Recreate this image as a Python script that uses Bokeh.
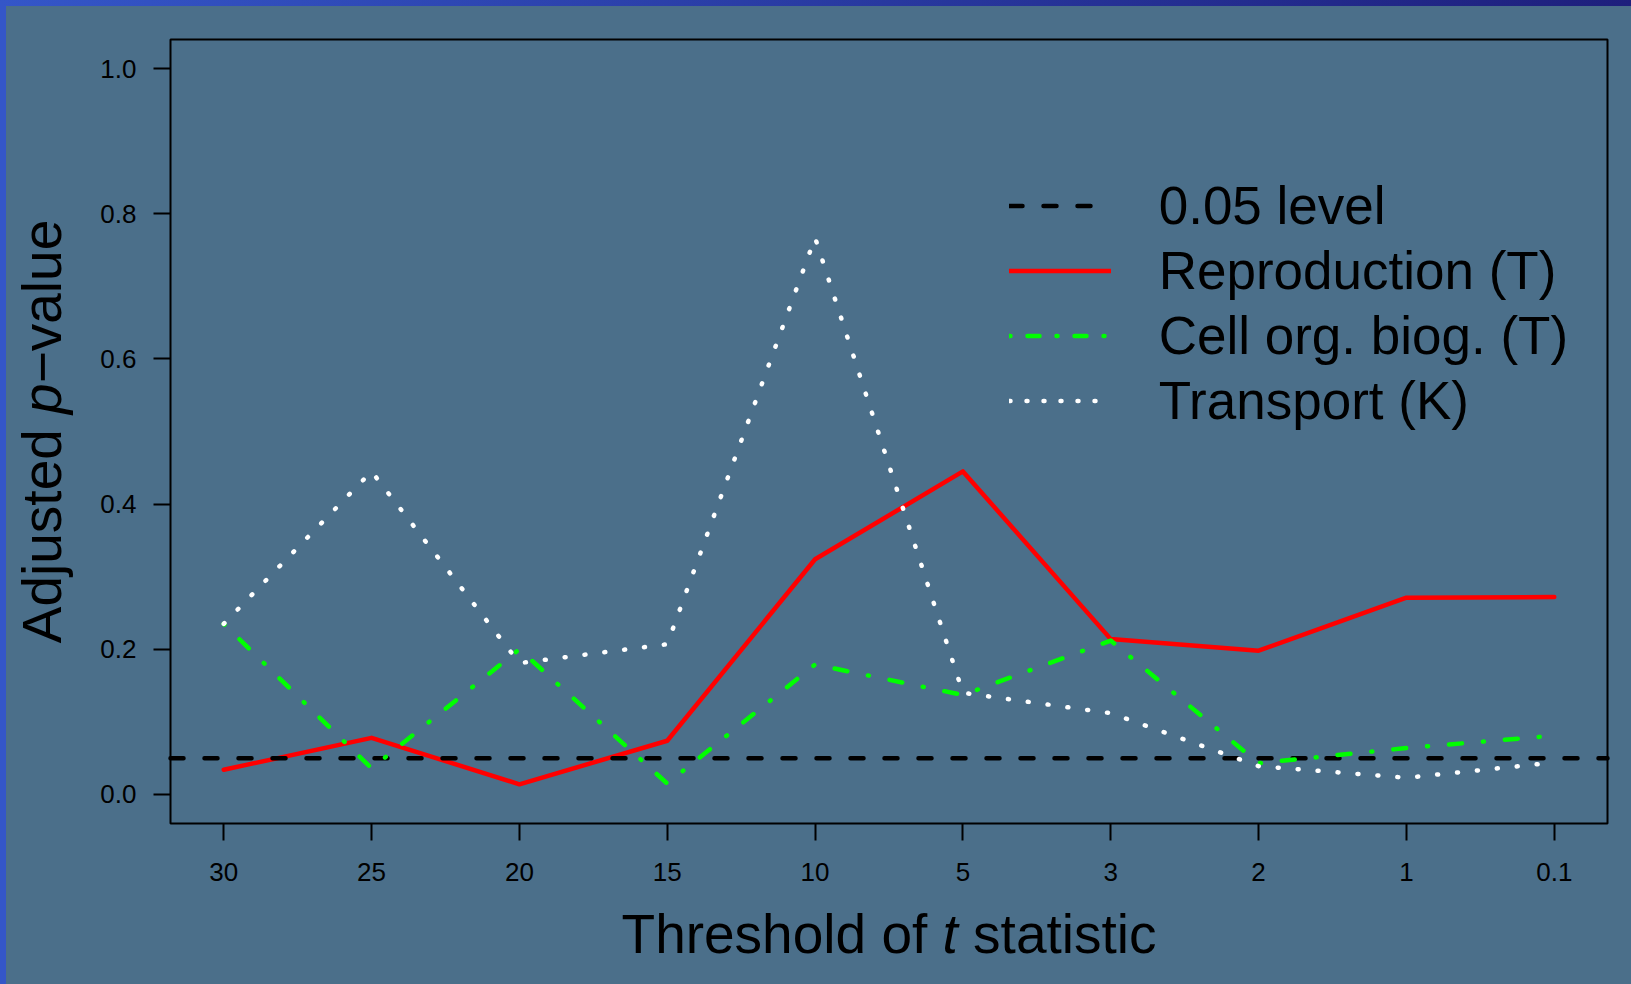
import math
from bokeh.plotting import figure
from bokeh.models import (Range1d, FixedTicker, PrintfTickFormatter, Legend, LegendItem,
                          Label, BoxAnnotation, GlobalInlineStyleSheet)
from bokeh.embed import file_html
from bokeh.resources import INLINE

# ---------------- data ----------------
thresholds = ["30", "25", "20", "15", "10", "5", "3", "2", "1", "0.1"]
positions = [1, 2, 3, 4, 5, 6, 7, 8, 9, 10]
reproduction = [0.034, 0.078, 0.014, 0.074, 0.324, 0.445, 0.214, 0.198, 0.271, 0.272]
cell_org = [0.235, 0.036, 0.200, 0.015, 0.179, 0.137, 0.212, 0.043, 0.064, 0.081]
transport = [0.235, 0.445, 0.181, 0.207, 0.767, 0.140, 0.112, 0.039, 0.023, 0.044]
level = [0.05]
y_ticks = [0.0, 0.2, 0.4, 0.6, 0.8, 1.0]
legend_labels = ["0.05 level", "Reproduction (T)", "Cell org. biog. (T)", "Transport (K)"]

# ---------------- geometry ----------------
BG = "#4b6f8a"
FONT = "Liberation Sans"
W, H = 1624, 977            # figure size (placed 6px from the page's top-left)
BL, BT, BW, BH = 164, 33, 1437, 784   # plot box inside the figure (pixels)
XLO, XHI = 0.64, 10.36      # plot box extent in data units (x)
YLO, YHI = -0.04, 1.04      # plot box extent in data units (y)
sx = BW / (XHI - XLO)
sy = BH / (YHI - YLO)
LW = 4.5

p = figure(width=W, height=H, output_backend="svg", toolbar_location=None,
           x_range=Range1d(XLO - BL / sx, XHI + (W - BL - BW) / sx),
           y_range=Range1d(YLO - (H - BT - BH) / sy, YHI + BT / sy),
           min_border=0)
p.title.visible = False
p.background_fill_color = BG
p.border_fill_color = BG
p.outline_line_color = None
p.grid.visible = False

for ax in (p.xaxis[0], p.yaxis[0]):
    ax.axis_line_color = None
    ax.major_tick_line_color = "black"
    ax.major_tick_line_width = 2
    ax.major_tick_out = 17
    ax.major_tick_in = 0
    ax.minor_tick_line_color = None
    ax.major_label_text_font = FONT
    ax.major_label_text_font_size = "26px"
    ax.major_label_text_color = "black"

p.xaxis.fixed_location = YLO
p.yaxis.fixed_location = XLO
p.xaxis.ticker = FixedTicker(ticks=positions)
p.xaxis.major_label_overrides = {pos: lab for pos, lab in zip(positions, thresholds)}
p.xaxis.major_label_standoff = 22
p.yaxis.ticker = FixedTicker(ticks=y_ticks)
p.yaxis.formatter = PrintfTickFormatter(format="%.1f")
p.yaxis.major_label_standoff = 17

# plot box
p.add_layout(BoxAnnotation(left=XLO, right=XHI, bottom=YLO, top=YHI,
                           fill_alpha=0, line_color="black", line_alpha=1, line_width=2))

# ---------------- series ----------------
p.line(positions, reproduction, line_color="#ff0000", line_width=LW,
       line_join="round", line_cap="round")
p.segment(x0=[XLO], x1=[XHI], y0=level, y1=level, line_color="black", line_width=LW,
          line_dash="13 21", line_cap="round")
p.line(positions, cell_org, line_color="#00ff00", line_width=LW,
       line_dash="1 21 13 21", line_join="round", line_cap="round")
p.line(positions, transport, line_color="#ffffff", line_width=LW,
       line_dash="1 19", line_join="round", line_cap="round")

# legend-only sample renderers (NaN data: nothing is drawn in the plot)
nan2 = [float("nan"), float("nan")]
lg = [
    p.line(positions[:2], nan2, line_color="black", line_width=LW, line_dash="13 21", line_cap="round"),
    p.line(positions[:2], nan2, line_color="#ff0000", line_width=LW, line_cap="round"),
    p.line(positions[:2], nan2, line_color="#00ff00", line_width=LW, line_dash="1 17 12 17", line_cap="round"),
    p.line(positions[:2], nan2, line_color="#ffffff", line_width=LW, line_dash="1 16", line_cap="round"),
]
legend = Legend(items=[LegendItem(label=t, renderers=[r]) for t, r in zip(legend_labels, lg)],
                location=(1002.7, 550), orientation="vertical",
                glyph_width=102, glyph_height=65, label_height=65, label_standoff=48,
                spacing=0, padding=0, margin=0,
                border_line_color=None, background_fill_alpha=0,
                label_text_font=FONT, label_text_font_size="53px", label_text_color="black")
p.add_layout(legend)

# ---------------- axis titles (mixed upright / italic) ----------------
ADV = {'T': 611, 'h': 556, 'r': 333, 'e': 556, 's': 500, 'o': 556, 'l': 222, 'd': 556,
       ' ': 278, 'f': 278, 't': 278, 'a': 556, 'i': 222, 'c': 500, 'A': 667, 'j': 222,
       'u': 556, 'p': 556, 'v': 500, '\u2212': 584}
TS = 55


def tw(s):
    return sum(ADV.get(c, 556) for c in s) * TS / 1000.0


# x title (screen units from the figure's bottom-left)
x0 = BL + BW / 2 - tw("Threshold of t statistic") / 2
xbase = 49.8
for txt, off, style in [("Threshold of", 0, "normal"),
                        ("t", tw("Threshold of "), "italic"),
                        ("statistic", tw("Threshold of t "), "normal")]:
    p.add_layout(Label(x=x0 + off, y=xbase, x_units="screen", y_units="screen", text=txt,
                       text_font=FONT, text_font_size=f"{TS}px", text_font_style=style,
                       text_color="black", text_align="left", text_baseline="alphabetic"))

# y title, rotated, reading upwards
ycenter = H - (BT + BH / 2)
y0 = ycenter - tw("Adjusted p\u2212value") / 2
ybase = 35.5
for txt, off, style in [("Adjusted", 0, "normal"),
                        ("p", tw("Adjusted "), "italic"),
                        ("\u2212value", tw("Adjusted p"), "normal")]:
    p.add_layout(Label(x=ybase, y=y0 + off, x_units="screen", y_units="screen", text=txt,
                       angle=math.pi / 2, text_font=FONT, text_font_size=f"{TS}px",
                       text_font_style=style, text_color="black", text_align="left",
                       text_baseline="alphabetic"))

# page background with the thin blue frame at top/left
p.styles = {"margin-left": "6px", "margin-top": "6px"}
p.stylesheets = [GlobalInlineStyleSheet(css="""
html { min-height: 100%; overflow: hidden;
  background:
    linear-gradient(to right, #3456c8, #1e1f7c) 0 0 / 100% 6px no-repeat,
    linear-gradient(#3456c8, #3456c8) 0 0 / 6px 100% no-repeat,
    #4b6f8a; }
body { background: transparent; }
""")]

open("out.html", "w").write(file_html(p, INLINE))
